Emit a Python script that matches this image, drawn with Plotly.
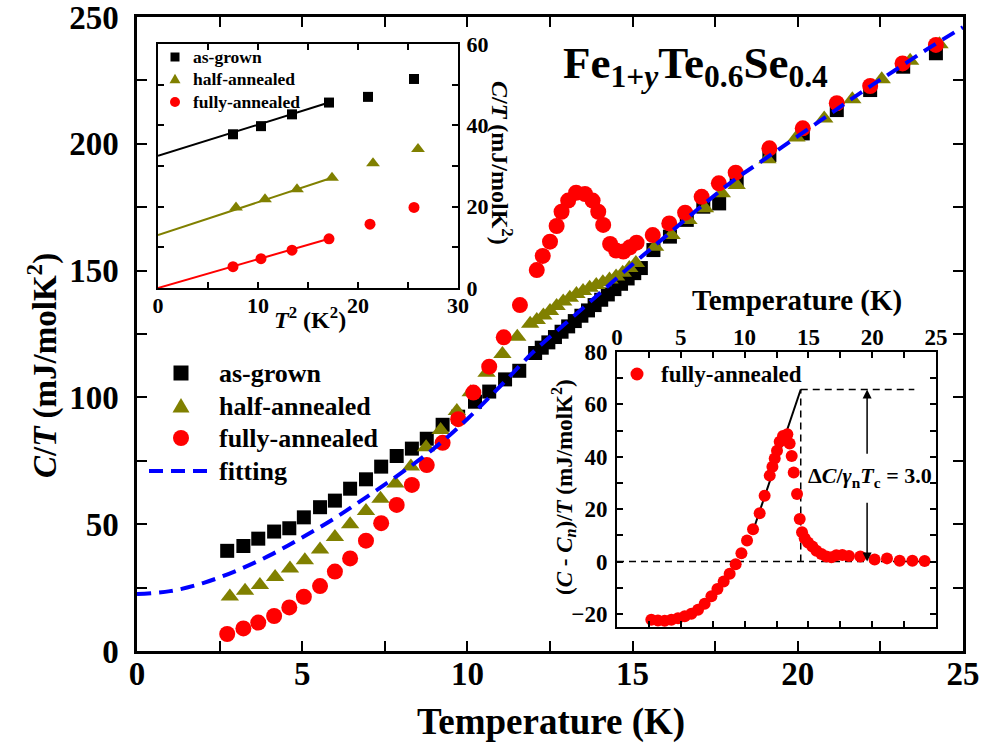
import plotly.graph_objects as go

# ---------------- main panel data ----------------
T_grown = [2.73, 3.22, 3.67, 4.15, 4.61, 5.05, 5.54, 5.99, 6.45, 6.93, 7.39, 7.86, 8.32, 8.77,
           9.25, 9.72, 10.23, 10.66, 11.14, 11.57,
           12.05, 12.25, 12.45, 12.65, 12.85, 13.05, 13.25, 13.45, 13.65, 13.85, 14.05, 14.25,
           14.45, 14.65, 14.85, 15.05, 15.25,
           15.63, 16.13, 16.64, 17.14, 17.62, 18.15, 19.14, 20.15, 21.18, 22.19, 23.19, 24.18]
CT_grown = [39.5, 41.4, 44.3, 47.1, 48.4, 52.7, 56.7, 59.3, 64.0, 67.7, 72.7, 76.9, 79.8, 83.7,
            89.2, 92.4, 98.3, 102.3, 107.1, 110.5,
            117.5, 119.6, 121.7, 123.8, 125.9, 128.0, 130.1, 132.2, 134.3, 136.4, 138.5, 140.6,
            142.7, 144.8, 146.9, 149.0, 151.0,
            158.1, 163.4, 170.0, 175.2, 176.5, 185.7, 195.6, 204.1, 213.3, 221.2, 230.4, 235.7]

T_half = [2.81, 3.27, 3.72, 4.18, 4.63, 5.08, 5.54, 5.99, 6.45, 6.93, 7.37, 7.82, 8.29, 8.75,
          9.19, 9.68, 10.10, 10.58, 11.06, 11.51, 11.90,
          12.1, 12.3, 12.5, 12.7, 12.9, 13.1, 13.3, 13.5, 13.7, 13.9, 14.1, 14.3, 14.5, 14.7,
          14.9, 15.1,
          15.68, 16.18, 16.69, 17.19, 17.70, 18.15, 19.08, 19.96, 20.80, 21.65, 22.54, 23.40, 24.29]
CT_half = [21.5, 23.8, 26.0, 29.2, 32.5, 35.8, 40.0, 45.0, 50.0, 55.2, 60.0, 66.0, 72.8, 80.3,
           87.1, 94.6, 102.0, 109.7, 117.1, 123.9, 129.0,
           130.5, 132.3, 134.1, 136.0, 137.8, 139.3, 140.8, 142.0, 143.2, 144.3, 145.4, 146.5,
           147.7, 149.2, 151.0, 153.0,
           159.4, 164.0, 170.0, 174.6, 180.5, 183.8, 193.9, 202.5, 210.0, 217.6, 225.5, 232.7, 239.3]

T_full = [2.73, 3.22, 3.67, 4.15, 4.61, 5.05, 5.54, 5.99, 6.45, 6.93, 7.39, 7.86, 8.32, 8.77,
          9.25, 9.72, 10.18, 10.66, 11.10, 11.59, 12.10, 12.28, 12.50, 12.70, 12.85, 13.05,
          13.29, 13.56, 13.79, 13.96, 14.11, 14.32, 14.50, 14.72, 14.92, 15.12, 15.61, 16.11,
          16.59, 17.09, 17.61, 18.12, 19.14, 20.15, 21.18, 22.19, 23.17, 24.18]
CT_full = [6.7, 8.9, 11.2, 13.8, 17.2, 21.4, 25.6, 31.3, 36.5, 43.5, 50.4, 57.6, 65.5, 73.3,
           82.1, 91.4, 101.9, 112.1, 123.7, 136.4, 150.2, 155.8, 161.4, 167.6, 173.2, 177.6,
           180.7, 180.2, 177.6, 173.2, 168.0, 160.5, 157.9, 157.5, 159.2, 161.0, 164.0, 168.6,
           172.8, 179.1, 184.4, 188.6, 198.2, 206.1, 216.0, 222.8, 231.7, 239.0]

T_fit = [0, 1, 2, 3, 4, 5, 6, 7, 8, 9, 10, 11, 12, 13, 14, 15, 16, 17, 18, 19, 20, 21, 22, 23, 24, 25]
CT_fit = [22.5, 23.6, 26.8, 31.6, 37.6, 44.8, 52.5, 61.2, 70.2, 80.0, 91.5, 104.5, 118.0, 129.5,
          141.0, 152.5, 163.5, 174.5, 185.0, 194.0, 203.0, 212.0, 221.0, 229.5, 238.0, 246.0]

# ---------------- inset 1 (C/T vs T^2) ----------------
T2_grown = [7.5, 10.3, 13.4, 17.1, 21.0, 25.6]
i1_grown = [37.8, 39.8, 42.7, 45.6, 47.0, 51.4]
T2_half = [7.8, 10.7, 13.9, 17.4, 21.5, 26.0]
i1_half = [19.8, 21.8, 24.3, 27.1, 30.7, 34.2]
T2_full = [7.5, 10.3, 13.4, 17.1, 21.2, 25.6]
i1_full = [5.25, 7.2, 9.3, 12.1, 15.7, 19.8]
fit_grown_x = [0, 17.1]
fit_grown_y = [32.5, 45.6]
fit_half_x = [0, 17.4]
fit_half_y = [13.0, 27.1]
fit_full_x = [0, 17.1]
fit_full_y = [0.0, 12.1]

# ---------------- inset 2 ((C-Cn)/T vs T) ----------------
T_i2 = [2.69, 3.21, 3.74, 4.26, 4.78, 5.31, 5.83, 6.35, 6.87, 7.40, 7.87, 8.36, 8.83, 9.30,
        9.75, 10.19, 10.66, 11.18, 11.57, 11.97, 12.18, 12.36, 12.54, 12.75, 13.01, 13.35,
        13.53, 13.69, 13.85, 14.11, 14.32, 14.50, 14.71, 14.97, 15.31, 15.63, 16.02, 16.41,
        16.80, 17.19, 17.66, 18.18, 19.07, 20.19, 21.16, 22.15, 23.15, 24.11]
dC_i2 = [-22.2, -22.5, -22.6, -22.2, -21.7, -20.9, -19.9, -18.4, -16.1, -13.3, -10.5, -7.6,
         -4.7, -1.0, 3.2, 8.0, 12.3, 18.4, 25.1, 32.8, 36.2, 39.3, 42.3, 45.7, 47.9, 48.6,
         45.1, 40.3, 34.0, 25.8, 16.2, 11.2, 8.9, 7.3, 5.7, 4.1, 2.9, 1.9, 1.6, 2.4, 2.5, 2.1,
         1.9, 0.8, 1.2, 0.3, 0.3, 0.2]
slope_x = [10.71, 14.40]
slope_y = [12.4, 65.7]
zero_x = [0, 24]
zero_y = [0, 0]
tc_x = [14.4, 14.4]
tc_y = [0, 65.7]
top_x = [14.4, 23.3]
top_y = [65.7, 65.7]
arrow_T = 19.6

# legend labels
main_labels = ["as-grown", "half-annealed", "fully-annealed", "fitting"]
inset1_labels = ["as-grown", "half-annealed", "fully-annealed"]
inset2_labels = ["fully-annealed"]

BLACK = "#000000"
OLIVE = "#808000"
RED = "#ff0000"
BLUE = "#0000ff"
FONT = "Liberation Serif"

# figure geometry (pixels) for placing legends / titles
W_FIG, H_FIG = 982, 747
ML, MR, MT, MB = 137, 19, 17, 96
PW, PH = W_FIG - ML - MR, H_FIG - MT - MB


def px(x):
    return (x - ML) / PW


def py(y):
    return (H_FIG - MB - y) / PH


fig = go.Figure()

# main traces
fig.add_trace(go.Scatter(x=T_grown, y=CT_grown, mode="markers", name=main_labels[0],
                         marker=dict(symbol="square", size=14, color=BLACK),
                         xaxis="x", yaxis="y", showlegend=False))
fig.add_trace(go.Scatter(x=T_half, y=CT_half, mode="markers", name=main_labels[1],
                         marker=dict(symbol="triangle-up", size=16, color=OLIVE),
                         xaxis="x", yaxis="y", showlegend=False))
fig.add_trace(go.Scatter(x=T_full, y=CT_full, mode="markers", name=main_labels[2],
                         marker=dict(symbol="circle", size=16, color=RED),
                         xaxis="x", yaxis="y", showlegend=False))
fig.add_trace(go.Scatter(x=T_fit, y=CT_fit, mode="lines", name=main_labels[3],
                         line=dict(color=BLUE, width=4, dash="14px,8px", shape="spline"),
                         xaxis="x", yaxis="y", showlegend=False))

# inset 1
for fx, fy, col in [(fit_grown_x, fit_grown_y, BLACK), (fit_half_x, fit_half_y, OLIVE),
                    (fit_full_x, fit_full_y, RED)]:
    fig.add_trace(go.Scatter(x=fx, y=fy, mode="lines", line=dict(color=col, width=2),
                             showlegend=False, xaxis="x2", yaxis="y2", hoverinfo="skip"))
fig.add_trace(go.Scatter(x=T2_grown, y=i1_grown, mode="markers", name=inset1_labels[0],
                         marker=dict(symbol="square", size=10, color=BLACK),
                         xaxis="x2", yaxis="y2", showlegend=False))
fig.add_trace(go.Scatter(x=T2_half, y=i1_half, mode="markers", name=inset1_labels[1],
                         marker=dict(symbol="triangle-up", size=12, color=OLIVE),
                         xaxis="x2", yaxis="y2", showlegend=False))
fig.add_trace(go.Scatter(x=T2_full, y=i1_full, mode="markers", name=inset1_labels[2],
                         marker=dict(symbol="circle", size=11, color=RED),
                         xaxis="x2", yaxis="y2", showlegend=False))

# inset 2
for lx, ly in [(zero_x, zero_y), (tc_x, tc_y), (top_x, top_y)]:
    fig.add_trace(go.Scatter(x=lx, y=ly, mode="lines", line=dict(color=BLACK, width=1.5, dash="7px,5px"),
                             showlegend=False, xaxis="x3", yaxis="y3", hoverinfo="skip"))
fig.add_trace(go.Scatter(x=slope_x, y=slope_y, mode="lines", line=dict(color=BLACK, width=2),
                         showlegend=False, xaxis="x3", yaxis="y3", hoverinfo="skip"))
fig.add_trace(go.Scatter(x=T_i2, y=dC_i2, mode="markers", name=inset2_labels[0],
                         marker=dict(symbol="circle", size=12, color=RED),
                         xaxis="x3", yaxis="y3", showlegend=False))


def axis_style(**kw):
    d = dict(showline=True, linecolor=BLACK, showgrid=False, zeroline=False, automargin=False,
             ticks="inside", tickcolor=BLACK, mirror="ticks", ticklabeloverflow="allow")
    d.update(kw)
    return d


def bold(s):
    return dict(family=FONT, size=s, color=BLACK, weight="bold")


fig.update_layout(
    width=W_FIG, height=H_FIG, autosize=False,
    margin=dict(l=ML, r=MR, t=MT, b=MB, pad=0),
    paper_bgcolor="white", plot_bgcolor="white",
    showlegend=False,
    xaxis=axis_style(domain=[0, 1], range=[0, 25], dtick=5, ticklen=10, tickwidth=2, linewidth=2.5,
                     tickfont=bold(33), ticklabelstandoff=-8, anchor="y",
                     minor=dict(dtick=2.5, ticks="inside", ticklen=10, tickwidth=2, tickcolor=BLACK)),
    yaxis=axis_style(domain=[0, 1], range=[0, 250], dtick=50, ticklen=10, tickwidth=2, linewidth=2.5,
                     tickfont=bold(33), ticklabelstandoff=9, anchor="x",
                     minor=dict(dtick=25, ticks="inside", ticklen=10, tickwidth=2, tickcolor=BLACK)),
    xaxis2=axis_style(domain=[px(158), px(458)], range=[0, 30], dtick=10, ticklen=6, tickwidth=1.5,
                      linewidth=2, tickfont=bold(22), anchor="y2", ticklabelstandoff=-3,
                      minor=dict(dtick=5, ticks="inside", ticklen=6, tickwidth=1.5, tickcolor=BLACK)),
    yaxis2=axis_style(domain=[py(288), py(44)], range=[0, 60], dtick=20, ticklen=6, tickwidth=1.5,
                      linewidth=2, tickfont=bold(22), anchor="x2", side="right", ticklabelstandoff=2,
                      minor=dict(dtick=10, ticks="inside", ticklen=6, tickwidth=1.5, tickcolor=BLACK)),
    xaxis3=axis_style(domain=[px(617), px(936)], range=[0, 25], dtick=5, ticklen=6, tickwidth=1.5,
                      linewidth=2, tickfont=bold(23), anchor="y3", side="top", ticklabelstandoff=-4,
                      minor=dict(dtick=2.5, ticks="inside", ticklen=6, tickwidth=1.5, tickcolor=BLACK)),
    yaxis3=axis_style(domain=[py(627), py(352)], range=[-25, 80], dtick=20, ticklen=6, tickwidth=1.5,
                      linewidth=2, tickfont=bold(23), anchor="x3", ticklabelstandoff=3,
                      minor=dict(dtick=10, ticks="inside", ticklen=6, tickwidth=1.5, tickcolor=BLACK)),
)

shapes = []
ann = []


def marker_shape(kind, cx, cy, size, color):
    # pixel-sized legend symbol anchored at a paper position
    base = dict(xref="paper", yref="paper", xsizemode="pixel", ysizemode="pixel",
                xanchor=px(cx), yanchor=py(cy), fillcolor=color, line=dict(width=0), layer="above")
    h = size / 2.0
    if kind == "square":
        base.update(type="rect", x0=-h, x1=h, y0=-h, y1=h)
    elif kind == "circle":
        base.update(type="circle", x0=-h, x1=h, y0=-h, y1=h)
    else:
        base.update(type="path", path=f"M{-h},{-h*0.75} L{h},{-h*0.75} L0,{h*0.95} Z")
    return base


def legend_text(text, x, y, size):
    return dict(text=text, xref="paper", yref="paper", x=px(x), y=py(y), xanchor="left",
                yanchor="middle", showarrow=False, font=bold(size))


# main legend
main_kinds = [("square", BLACK, 15), ("triangle", OLIVE, 17), ("circle", RED, 16)]
main_rows = [373, 406, 438, 471]
for (kind, col, sz), yy, lab in zip(main_kinds, main_rows[:3], main_labels[:3]):
    shapes.append(marker_shape(kind, 181, yy, sz, col))
    ann.append(legend_text(lab, 217, yy, 26))
shapes.append(dict(type="line", xref="paper", yref="paper", x0=px(149), x1=px(212),
                   y0=py(main_rows[3]), y1=py(main_rows[3]), line=dict(color=BLUE, width=4, dash="14px,8px")))
ann.append(legend_text(main_labels[3], 217, main_rows[3], 26))

# inset 1 legend
in1_kinds = [("square", BLACK, 9), ("triangle", OLIVE, 11), ("circle", RED, 10)]
for (kind, col, sz), yy, lab in zip(in1_kinds, [57, 79, 102], inset1_labels):
    shapes.append(marker_shape(kind, 175, yy, sz, col))
    ann.append(legend_text(lab, 191, yy, 17.5))

# inset 2 legend
shapes.append(marker_shape("circle", 637, 374, 13, RED))
ann.append(legend_text(inset2_labels[0], 659, 374, 23))


def ptext(text, x, y, size, angle=0):
    return dict(text=text, xref="paper", yref="paper", x=px(x), y=py(y), xanchor="center",
                yanchor="middle", textangle=angle, showarrow=False, font=bold(size))


ann.append(dict(text="Fe<sub>1+<i>y</i></sub>Te<sub>0.6</sub>Se<sub>0.4</sub>", xref="paper", yref="paper",
                x=px(561), y=py(66), xanchor="left", yanchor="middle", showarrow=False, font=bold(45)))
ann.append(ptext("<i>C</i>/<i>T</i> (mJ/molK<sup>2</sup>)", 42, 366, 33, -90))
ann.append(ptext("Temperature (K)", 551, 722, 37))
ann.append(ptext("<i>T</i><sup>2</sup> (K<sup>2</sup>)", 310, 318, 24))
ann.append(ptext("<i>C</i>/<i>T</i> (mJ/molK<sup>2</sup>)", 502, 163, 24, 90))
ann.append(ptext("Temperature (K)", 797, 300, 29))
ann.append(ptext("(<i>C</i> - <i>C</i><sub><i>n</i></sub>)/<i>T</i> (mJ/molK<sup>2</sup>)", 563, 487, 23, -90))
ann.append(dict(text="Δ<i>C</i>/<i>γ</i><sub>n</sub><i>T</i><sub>c</sub> = 3.0", xref="x3", yref="y3",
                x=19.8, y=32.4, xanchor="center", yanchor="middle", showarrow=False, font=bold(22)))
ann.append(dict(text="", xref="x3", yref="y3", x=arrow_T, y=top_y[0], ax=arrow_T, ay=40.6,
                axref="x3", ayref="y3", showarrow=True, arrowhead=2, arrowsize=1.2, arrowwidth=1.5,
                arrowcolor=BLACK))
ann.append(dict(text="", xref="x3", yref="y3", x=arrow_T, y=0, ax=arrow_T, ay=23.0,
                axref="x3", ayref="y3", showarrow=True, arrowhead=2, arrowsize=1.2, arrowwidth=1.5,
                arrowcolor=BLACK))

fig.update_layout(annotations=ann, shapes=shapes)

fig.write_html("out.html")
